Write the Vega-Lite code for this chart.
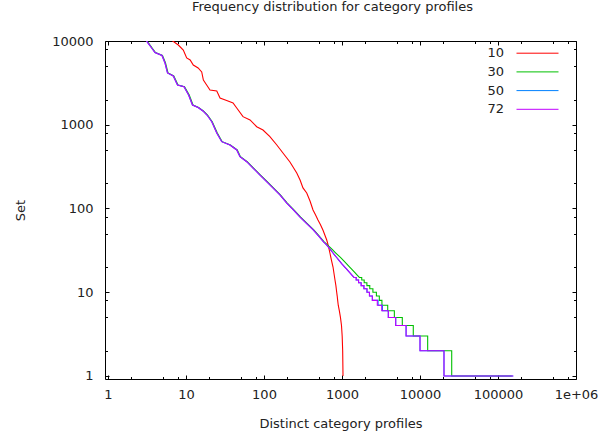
{
"$schema": "https://vega.github.io/schema/vega-lite/v6.json",
"width": 471, "height": 338,
"autosize": {"type": "none"},
"padding": {"left": 105, "top": 41, "right": 22, "bottom": 57},
"background": "#ffffff",
"config": {
  "view": {"stroke": null},
  "font": "DejaVu Sans",
  "axis": {"labelFont": "DejaVu Sans", "labelFontSize": 13, "labelColor": "#222222", "titleFont": "DejaVu Sans", "titleFontSize": 13, "titleFontWeight": "normal", "titleColor": "#222222", "domainColor": "#000000", "tickColor": "#000000", "grid": false, "labelOverlap": false, "labelFlush": false, "labelBound": false}
},
"title": {"text": "Frequency distribution for category profiles", "font": "DejaVu Sans", "fontSize": 13, "fontWeight": "normal", "color": "#222222", "anchor": "middle", "baseline": "middle", "offset": 15, "dx": -8},
"data": {"values": [
{"s":"10","x":5.71,"y":11160},{"s":"10","x":7.97,"y":8960},{"s":"10","x":9.23,"y":7810},{"s":"10","x":10.2,"y":6270},{"s":"10","x":11.3,"y":5930},{"s":"10","x":12.4,"y":5170},{"s":"10","x":14.3,"y":4760},{"s":"10","x":15.9,"y":4265},{"s":"10","x":16.7,"y":3420},{"s":"10","x":18.4,"y":2985},{"s":"10","x":20.3,"y":2600},{"s":"10","x":24.8,"y":2530},{"s":"10","x":27.3,"y":2085},{"s":"10","x":33.2,"y":1950},{"s":"10","x":40.1,"y":1820},{"s":"10","x":44.7,"y":1585},{"s":"10","x":53.8,"y":1248},{"s":"10","x":66.2,"y":1140},{"s":"10","x":80.6,"y":948},{"s":"10","x":97.1,"y":865},{"s":"10","x":119,"y":720},{"s":"10","x":146,"y":573},{"s":"10","x":175,"y":460},{"s":"10","x":215,"y":359},{"s":"10","x":263,"y":265},{"s":"10","x":290,"y":219},{"s":"10","x":316,"y":176},{"s":"10","x":353,"y":153},{"s":"10","x":389,"y":123},{"s":"10","x":425,"y":96},{"s":"10","x":457,"y":84},{"s":"10","x":492,"y":73},{"s":"10","x":530,"y":64},{"s":"10","x":571,"y":55},{"s":"10","x":637,"y":42},{"s":"10","x":667,"y":36},{"s":"10","x":702,"y":29},{"s":"10","x":733,"y":24},{"s":"10","x":767,"y":20},{"s":"10","x":813,"y":14},{"s":"10","x":835,"y":12},{"s":"10","x":855,"y":10},{"s":"10","x":868,"y":9},{"s":"10","x":880,"y":8},{"s":"10","x":895,"y":7},{"s":"10","x":925,"y":6},{"s":"10","x":955,"y":5},{"s":"10","x":985,"y":4},{"s":"10","x":1005,"y":3},{"s":"10","x":1020,"y":2},{"s":"10","x":1030,"y":1},

{"s":"30","x":2.85,"y":11480},{"s":"30","x":3.35,"y":9300},{"s":"30","x":3.68,"y":8250},{"s":"30","x":4.06,"y":7290},{"s":"30","x":4.99,"y":6710},{"s":"30","x":5.46,"y":5460},{"s":"30","x":5.88,"y":4150},{"s":"30","x":6.97,"y":3820},{"s":"30","x":7.9,"y":2985},{"s":"30","x":9.57,"y":2845},{"s":"30","x":11.0,"y":2265},{"s":"30","x":12.3,"y":1720},{"s":"30","x":14.5,"y":1607},{"s":"30","x":16.7,"y":1460},{"s":"30","x":18.9,"y":1307},{"s":"30","x":21.7,"y":1087},{"s":"30","x":25.2,"y":797},{"s":"30","x":29.1,"y":628},{"s":"30","x":37.1,"y":573},{"s":"30","x":45.4,"y":500},{"s":"30","x":49.9,"y":415},{"s":"30","x":60.9,"y":362},{"s":"30","x":74.0,"y":302},{"s":"30","x":90.2,"y":251},{"s":"30","x":110,"y":209},{"s":"30","x":134,"y":174},{"s":"30","x":162,"y":145},{"s":"30","x":199,"y":116},{"s":"30","x":242,"y":96},{"s":"30","x":295,"y":79},{"s":"30","x":359,"y":66},{"s":"30","x":432,"y":56},{"s":"30","x":508,"y":47},
{"s":"30","x":590,"y":40},{"s":"30","x":625,"y":38},{"s":"30","x":665,"y":36},{"s":"30","x":710,"y":34},{"s":"30","x":760,"y":32},{"s":"30","x":815,"y":30},{"s":"30","x":880,"y":28},{"s":"30","x":955,"y":26},{"s":"30","x":1040,"y":24},{"s":"30","x":1140,"y":22},{"s":"30","x":1255,"y":20},{"s":"30","x":1320,"y":19},{"s":"30","x":1395,"y":18},{"s":"30","x":1475,"y":17},{"s":"30","x":1565,"y":16},{"s":"30","x":1670,"y":15},{"s":"30","x":1790,"y":15},{"s":"30","x":1790,"y":14},{"s":"30","x":1925,"y":14},{"s":"30","x":1925,"y":13},{"s":"30","x":2085,"y":13},{"s":"30","x":2085,"y":12},{"s":"30","x":2270,"y":12},{"s":"30","x":2270,"y":11},{"s":"30","x":2490,"y":11},{"s":"30","x":2490,"y":10},{"s":"30","x":2760,"y":10},{"s":"30","x":2760,"y":9},{"s":"30","x":3010,"y":9},{"s":"30","x":3010,"y":8},{"s":"30","x":3250,"y":8},{"s":"30","x":3250,"y":7},{"s":"30","x":3855,"y":7},{"s":"30","x":3855,"y":6},{"s":"30","x":4690,"y":6},{"s":"30","x":4690,"y":5},{"s":"30","x":5930,"y":5},{"s":"30","x":5930,"y":4},{"s":"30","x":8200,"y":4},{"s":"30","x":8200,"y":3},{"s":"30","x":12540,"y":3},{"s":"30","x":12540,"y":2},{"s":"30","x":25500,"y":2},{"s":"30","x":25500,"y":1},{"s":"30","x":150000,"y":1},

{"s":"50","x":2.81,"y":11480},{"s":"50","x":3.3,"y":9300},{"s":"50","x":3.63,"y":8250},{"s":"50","x":4.0,"y":7290},{"s":"50","x":4.92,"y":6710},{"s":"50","x":5.38,"y":5460},{"s":"50","x":5.79,"y":4150},{"s":"50","x":6.87,"y":3820},{"s":"50","x":7.78,"y":2985},{"s":"50","x":9.43,"y":2845},{"s":"50","x":10.8,"y":2265},{"s":"50","x":12.1,"y":1720},{"s":"50","x":14.3,"y":1607},{"s":"50","x":16.5,"y":1460},{"s":"50","x":18.6,"y":1307},{"s":"50","x":21.4,"y":1087},{"s":"50","x":24.8,"y":797},{"s":"50","x":28.7,"y":628},{"s":"50","x":36.6,"y":573},{"s":"50","x":44.7,"y":500},{"s":"50","x":49.2,"y":415},{"s":"50","x":60,"y":362},{"s":"50","x":72.9,"y":302},{"s":"50","x":88.9,"y":251},{"s":"50","x":108,"y":209},{"s":"50","x":132,"y":174},{"s":"50","x":160,"y":145},{"s":"50","x":196,"y":116},{"s":"50","x":238,"y":96},{"s":"50","x":290,"y":79},{"s":"50","x":353,"y":66},{"s":"50","x":425,"y":56},{"s":"50","x":500,"y":47},
{"s":"50","x":580,"y":40},{"s":"50","x":612,"y":38},{"s":"50","x":645,"y":36},{"s":"50","x":680,"y":34},{"s":"50","x":715,"y":32},{"s":"50","x":755,"y":30},{"s":"50","x":800,"y":28},{"s":"50","x":855,"y":26},{"s":"50","x":915,"y":24},{"s":"50","x":990,"y":22},{"s":"50","x":1085,"y":20},{"s":"50","x":1140,"y":19},{"s":"50","x":1200,"y":18},{"s":"50","x":1265,"y":17},{"s":"50","x":1340,"y":16},{"s":"50","x":1425,"y":15},{"s":"50","x":1520,"y":15},{"s":"50","x":1520,"y":14},{"s":"50","x":1630,"y":14},{"s":"50","x":1630,"y":13},{"s":"50","x":1760,"y":13},{"s":"50","x":1760,"y":12},{"s":"50","x":1910,"y":12},{"s":"50","x":1910,"y":11},{"s":"50","x":2090,"y":11},{"s":"50","x":2090,"y":10},{"s":"50","x":2250,"y":10},{"s":"50","x":2250,"y":9},{"s":"50","x":2450,"y":9},{"s":"50","x":2450,"y":8},{"s":"50","x":2900,"y":8},{"s":"50","x":2900,"y":7},{"s":"50","x":3300,"y":7},{"s":"50","x":3300,"y":6},{"s":"50","x":3925,"y":6},{"s":"50","x":3925,"y":5},{"s":"50","x":4880,"y":5},{"s":"50","x":4880,"y":4},{"s":"50","x":6630,"y":4},{"s":"50","x":6630,"y":3},{"s":"50","x":10000,"y":3},{"s":"50","x":10000,"y":2},{"s":"50","x":20300,"y":2},{"s":"50","x":20300,"y":1},{"s":"50","x":157000,"y":1},

{"s":"72","x":2.81,"y":11480},{"s":"72","x":3.3,"y":9300},{"s":"72","x":3.63,"y":8250},{"s":"72","x":4.0,"y":7290},{"s":"72","x":4.92,"y":6710},{"s":"72","x":5.38,"y":5460},{"s":"72","x":5.79,"y":4150},{"s":"72","x":6.87,"y":3820},{"s":"72","x":7.78,"y":2985},{"s":"72","x":9.43,"y":2845},{"s":"72","x":10.8,"y":2265},{"s":"72","x":12.1,"y":1720},{"s":"72","x":14.3,"y":1607},{"s":"72","x":16.5,"y":1460},{"s":"72","x":18.6,"y":1307},{"s":"72","x":21.4,"y":1087},{"s":"72","x":24.8,"y":797},{"s":"72","x":28.7,"y":628},{"s":"72","x":36.6,"y":573},{"s":"72","x":44.7,"y":500},{"s":"72","x":49.2,"y":415},{"s":"72","x":60,"y":362},{"s":"72","x":72.9,"y":302},{"s":"72","x":88.9,"y":251},{"s":"72","x":108,"y":209},{"s":"72","x":132,"y":174},{"s":"72","x":160,"y":145},{"s":"72","x":196,"y":116},{"s":"72","x":238,"y":96},{"s":"72","x":290,"y":79},{"s":"72","x":353,"y":66},{"s":"72","x":425,"y":56},{"s":"72","x":500,"y":47},
{"s":"72","x":580,"y":40},{"s":"72","x":612,"y":38},{"s":"72","x":645,"y":36},{"s":"72","x":680,"y":34},{"s":"72","x":715,"y":32},{"s":"72","x":755,"y":30},{"s":"72","x":800,"y":28},{"s":"72","x":855,"y":26},{"s":"72","x":915,"y":24},{"s":"72","x":990,"y":22},{"s":"72","x":1085,"y":20},{"s":"72","x":1140,"y":19},{"s":"72","x":1200,"y":18},{"s":"72","x":1265,"y":17},{"s":"72","x":1340,"y":16},{"s":"72","x":1425,"y":15},{"s":"72","x":1520,"y":15},{"s":"72","x":1520,"y":14},{"s":"72","x":1630,"y":14},{"s":"72","x":1630,"y":13},{"s":"72","x":1760,"y":13},{"s":"72","x":1760,"y":12},{"s":"72","x":1910,"y":12},{"s":"72","x":1910,"y":11},{"s":"72","x":2090,"y":11},{"s":"72","x":2090,"y":10},{"s":"72","x":2250,"y":10},{"s":"72","x":2250,"y":9},{"s":"72","x":2450,"y":9},{"s":"72","x":2450,"y":8},{"s":"72","x":2835,"y":8},{"s":"72","x":2835,"y":7},{"s":"72","x":3230,"y":7},{"s":"72","x":3230,"y":6},{"s":"72","x":3925,"y":6},{"s":"72","x":3925,"y":5},{"s":"72","x":4880,"y":5},{"s":"72","x":4880,"y":4},{"s":"72","x":6630,"y":4},{"s":"72","x":6630,"y":3},{"s":"72","x":10000,"y":3},{"s":"72","x":10000,"y":2},{"s":"72","x":20300,"y":2},{"s":"72","x":20300,"y":1},{"s":"72","x":157000,"y":1}
]},
"layer": [
  {
    "mark": {"type": "line", "strokeWidth": 1.1, "clip": true},
    "encoding": {
      "x": {"field": "x", "type": "quantitative",
        "scale": {"type": "log", "domain": [0.915, 1000000], "nice": false, "zero": false},
        "axis": {"orient": "bottom",
          "values": [1,2,5,8,10,20,50,80,100,200,500,800,1000,2000,5000,8000,10000,20000,50000,80000,100000,200000,500000,800000,1000000],
          "labelExpr": "datum.value == 1000000 ? '1e+06' : (indexof([1,10,100,1000,10000,100000], datum.value) >= 0 ? '' + datum.value : '')",
          "tickSize": {"condition": {"test": "indexof([1,10,100,1000,10000,100000,1000000], datum.value) >= 0", "value": -4}, "value": -2.5},
          "labelPadding": 19, "labelBaseline": "middle",
          "title": "Distinct category profiles", "titleY": 44, "titleBaseline": "middle"}},
      "y": {"field": "y", "type": "quantitative",
        "scale": {"type": "log", "domain": [0.92, 10000], "nice": false, "zero": false},
        "axis": {"orient": "left",
          "values": [1,2,5,8,10,20,50,80,100,200,500,800,1000,2000,5000,8000,10000],
          "labelExpr": "indexof([1,10,100,1000,10000], datum.value) >= 0 ? '' + datum.value : ''",
          "tickSize": {"condition": {"test": "indexof([1,10,100,1000,10000], datum.value) >= 0", "value": -4}, "value": -2.5},
          "labelPadding": 16,
          "title": "Set", "titleX": -85, "titleBaseline": "middle"}},
      "color": {"field": "s", "type": "nominal",
        "scale": {"domain": ["10","30","50","72"], "range": ["#ff0000","#00c000","#0080ff","#c000ff"]},
        "legend": {"orient": "none", "legendX": 425, "legendY": 4.7, "title": null,
          "symbolType": "M-3,0H3", "symbolSize": 196, "symbolStrokeWidth": 1,
          "labelAlign": "right", "labelOffset": -41, "labelFont": "DejaVu Sans", "labelFontSize": 13, "labelColor": "#222222",
          "rowPadding": 3.7, "padding": 0}},
      "order": {"value": null}
    }
  },
  {
    "mark": {"type": "line", "opacity": 0, "strokeOpacity": 0},
    "encoding": {
      "x": {"field": "x", "type": "quantitative",
        "scale": {"type": "log", "domain": [0.915, 1000000], "nice": false, "zero": false},
        "axis": {"orient": "top",
          "values": [1,2,5,8,10,20,50,80,100,200,500,800,1000,2000,5000,8000,10000,20000,50000,80000,100000,200000,500000,800000,1000000],
          "labels": false, "title": null,
          "tickSize": {"condition": {"test": "indexof([1,10,100,1000,10000,100000,1000000], datum.value) >= 0", "value": -4}, "value": -2.5}}},
      "y": {"field": "y", "type": "quantitative",
        "scale": {"type": "log", "domain": [0.92, 10000], "nice": false, "zero": false},
        "axis": {"orient": "right",
          "values": [1,2,5,8,10,20,50,80,100,200,500,800,1000,2000,5000,8000,10000],
          "labels": false, "title": null,
          "tickSize": {"condition": {"test": "indexof([1,10,100,1000,10000], datum.value) >= 0", "value": -4}, "value": -2.5}}},
      "order": {"value": null}
    }
  }
],
"resolve": {"axis": {"x": "independent", "y": "independent"}}
}
